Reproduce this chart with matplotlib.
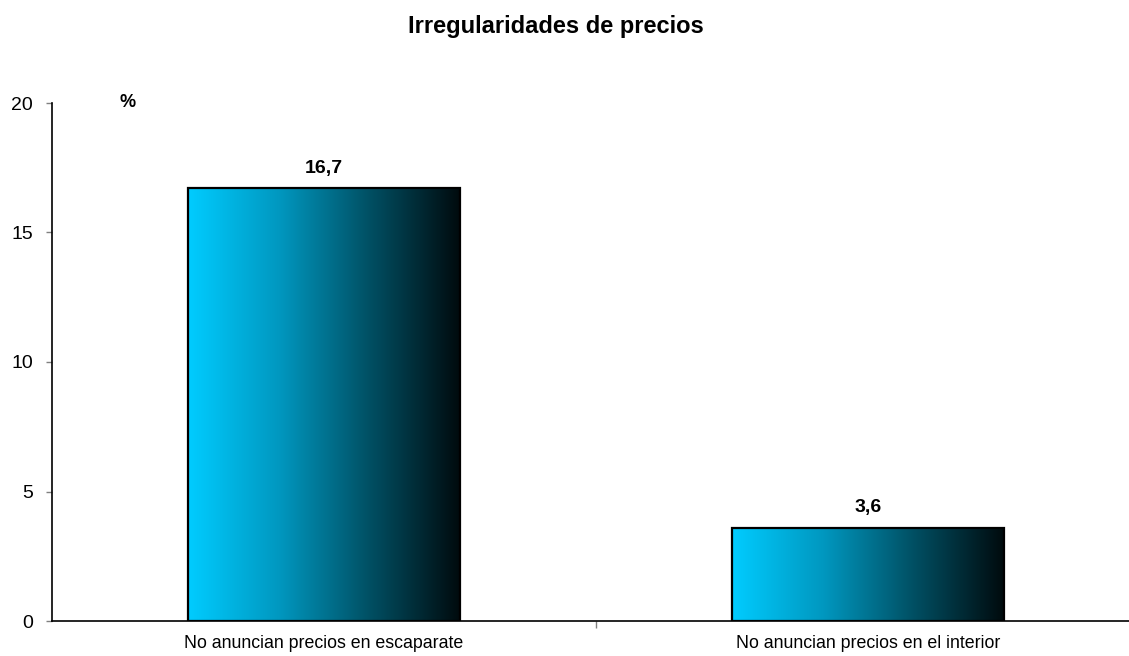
"""
Irregularidades de precios - barras con degradado horizontal
"""
import matplotlib
matplotlib.use('Agg')
import matplotlib.pyplot as plt
from matplotlib.colors import LinearSegmentedColormap
import numpy as np

# ── Datos ──
categorias = ['No anuncian precios en escaparate',
              'No anuncian precios en el interior']
valores = [16.7, 3.6]
etiquetas = ['16,7', '3,6']
yticks = [0, 5, 10, 15, 20]

plt.rcParams['font.family'] = ['Liberation Sans', 'DejaVu Sans']

# ── Gráfico ──
fig = plt.figure(figsize=(11.29, 6.56), dpi=100)
ax = fig.add_axes([52 / 1129, 1 - 621 / 656, 1088 / 1129, 518 / 656])

cmap = LinearSegmentedColormap.from_list('cian', ['#00CCFF', '#0098C0', '#005064', '#000B0E'])
grad = np.linspace(0, 1, 256).reshape(1, -1)

x = np.arange(len(categorias))
BAR_W = 0.5
bars = ax.bar(x, valores, width=BAR_W, color='none', edgecolor='black',
              linewidth=1.6, zorder=3)

for b, lab in zip(bars, etiquetas):
    x0, w, h = b.get_x(), b.get_width(), b.get_height()
    im = ax.imshow(grad, cmap=cmap, aspect='auto', extent=[x0, x0 + w, 0, h],
                   zorder=2, interpolation='bicubic')
    im.set_clip_path(b)
    ax.text(x0 + w / 2, h + 0.6, lab, ha='center', va='baseline',
            fontsize=14, fontweight='bold')

ax.set_xlim(-0.5, len(categorias) - 0.5)
ax.set_ylim(0, 20)

ax.set_yticks(yticks)
ax.set_yticklabels([str(v) for v in yticks], fontsize=14)
ax.tick_params(axis='y', length=4.5, width=1, color='#808080', pad=9)

ax.set_xticks(x)
ax.set_xticklabels(categorias, fontsize=12.8)
ax.set_xticks([0.5], minor=True)
ax.tick_params(axis='x', which='major', length=0, pad=10)
ax.tick_params(axis='x', which='minor', length=5, width=1, color='#808080')

for s in ['top', 'right']:
    ax.spines[s].set_visible(False)
for s in ['left', 'bottom']:
    ax.spines[s].set_linewidth(1.2)

ax.text(0.069, 19.85, '%', ha='center', va='baseline',
        transform=ax.get_yaxis_transform(), fontsize=13, fontweight='bold')

fig.text(556 / 1129, 1 - 33 / 656, 'Irregularidades de precios', ha='center',
         va='baseline', fontsize=17, fontweight='bold')

fig.savefig('out.png', dpi=100)
plt.close(fig)
